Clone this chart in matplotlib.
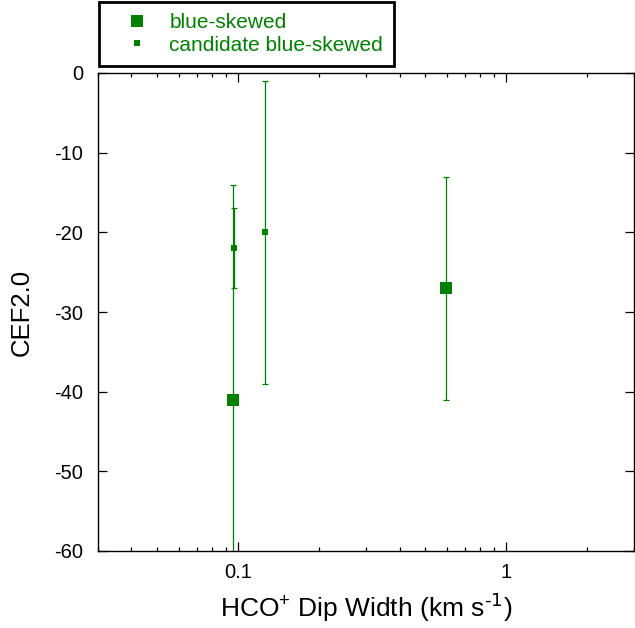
import matplotlib
matplotlib.use("Agg")
import matplotlib.pyplot as plt

plt.rcParams['font.family'] = ['Liberation Sans', 'DejaVu Sans']
plt.rcParams['mathtext.default'] = 'regular'

# Data
x_blue = [0.0958, 0.598]
y_blue = [-41, -27]
err_blue = [27, 14]

x_cand = [0.0966, 0.126]
y_cand = [-22, -20]
err_cand = [5, 19]

labels = ["blue-skewed", "candidate blue-skewed"]
yticks = [0, -10, -20, -30, -40, -50, -60]
xticks = [0.1, 1]
xticklabels = ["0.1", "1"]

green = '#008000'

fig = plt.figure(figsize=(6.35, 6.28), dpi=100)
ax = fig.add_axes([98/635, 1-551/628, (635-98)/635 - 0.0015, (551-73)/628])

ax.errorbar(x_blue, y_blue, yerr=err_blue, fmt='none', ecolor=green,
            elinewidth=0.9, capsize=2.5, capthick=0.9, zorder=2)
ax.errorbar(x_cand, y_cand, yerr=err_cand, fmt='none', ecolor=green,
            elinewidth=0.9, capsize=2.5, capthick=0.9, zorder=2)
h1, = ax.plot(x_blue, y_blue, linestyle='none', marker='s', markersize=9.1,
              color=green, markeredgewidth=0, label=labels[0], zorder=3)
h2, = ax.plot(x_cand, y_cand, linestyle='none', marker='s', markersize=5,
              color=green, markeredgewidth=0, label=labels[1], zorder=3)

ax.set_xscale('log')
ax.set_xlim(0.03, 3)
ax.set_ylim(-60, 0)
ax.set_xticks(xticks)
ax.set_xticklabels(xticklabels)
ax.set_yticks(yticks)
ax.set_yticklabels([str(v) for v in yticks])

ax.tick_params(axis='both', which='major', direction='in', length=6.5, width=0.9,
               labelsize=14.5, top=True, right=True)
ax.tick_params(axis='both', which='minor', direction='in', length=3, width=0.9,
               top=True, right=True)
ax.tick_params(axis='y', which='major', pad=10.5)
ax.tick_params(axis='x', which='major', pad=9)
ax.yaxis.set_minor_locator(matplotlib.ticker.NullLocator())
for s in ax.spines.values():
    s.set_linewidth(1.0)

ax.set_xlabel(r'HCO$^{+}$ Dip Width (km s$^{\text{-1}}$)', fontsize=19, labelpad=6)
ax.set_ylabel('CEF2.0', fontsize=18.5, labelpad=15)

leg = fig.legend(handles=[h1, h2], labels=labels, loc='upper left',
                 bbox_to_anchor=(99/635, 1-2/628), bbox_transform=fig.transFigure,
                 frameon=True, fancybox=False, edgecolor='black', framealpha=1,
                 fontsize=15, borderpad=0.53, handlelength=2.6, handletextpad=0.24,
                 labelspacing=0.17, borderaxespad=0, labelcolor=green)
leg.get_frame().set_linewidth(2)

fig.savefig('out.png', dpi=100)
